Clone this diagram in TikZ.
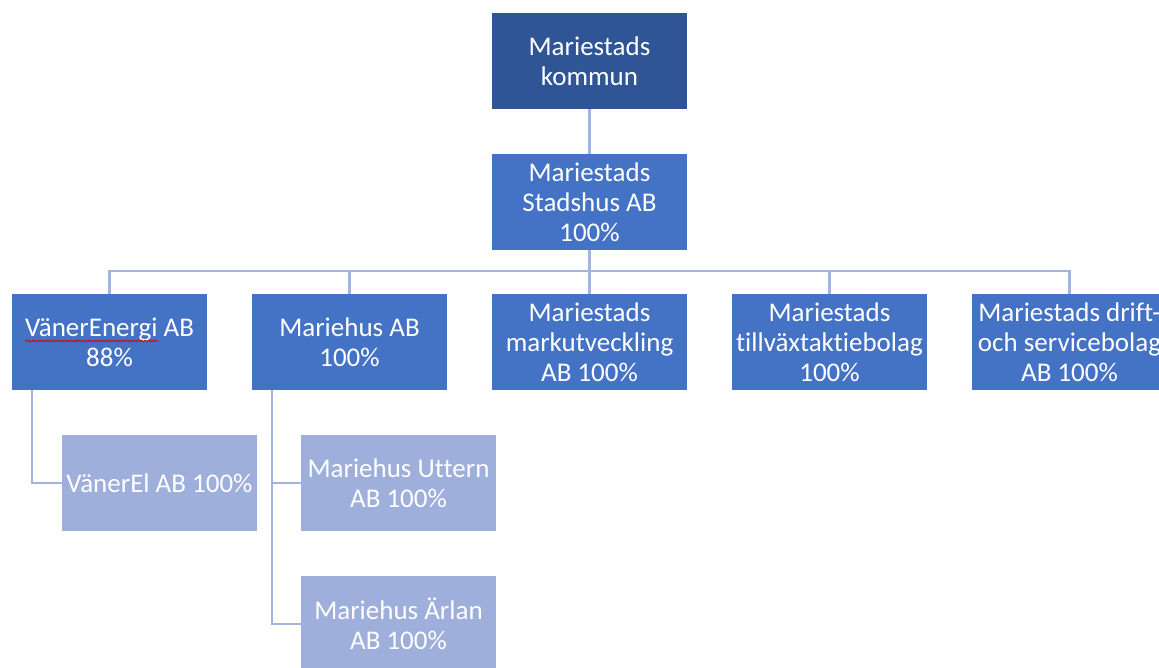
\documentclass[tikz,border=0pt]{standalone}
\usepackage{fontspec}
\setmainfont{Carlito}[Ligatures=NoCommon]
\usetikzlibrary{decorations.pathmorphing}
\definecolor{topblue}{HTML}{2F5597}
\definecolor{midblue}{HTML}{4472C4}
\definecolor{lightblue}{HTML}{9FAFDB}
\definecolor{linecol}{HTML}{A3B4DE}
\begin{document}
\begin{tikzpicture}[x=1pt,y=-1pt,
  orgbox/.style={rectangle, minimum width=195pt, minimum height=96pt, inner sep=0pt,
    align=center, text=white, font=\fontsize{27}{30}\selectfont},
  topbox/.style={orgbox, fill=topblue},
  midbox/.style={orgbox, fill=midblue},
  subbox/.style={orgbox, fill=lightblue},
  txt/.style={inner sep=0pt, align=center, text=white, font=\fontsize{27}{30}\selectfont},
  conn/.style={draw=linecol, line width=2.2pt}]
\clip (0,0) rectangle (1159,668);
\fill[white] (0,0) rectangle (1159,668);
% nodes
\node[topbox] (top) at (589.5,61) {Mariestads\\kommun};
\node[midbox] (stad) at (589.5,202) {Mariestads\\Stadshus AB\\100\%};
\node[midbox] (ve) at (109.5,342) {VänerEnergi AB\\88\%};
\node[midbox] (mh) at (349.5,342) {Mariehus AB\\100\%};
\node[midbox] (mark) at (589.5,342) {Mariestads\\markutveckling\\AB 100\%};
\node[midbox] (till) at (829.5,342) {Mariestads\\tillväxtaktiebolag\\100\%};
\node[midbox] (drift) at (1069.5,342) {};
\node[txt] (driftt) at (drift) {Mariestads drift-\\och servicebolag\\AB 100\%};
\node[subbox] (vel) at (159.5,483) {VänerEl AB 100\%};
\node[subbox] (utt) at (398.5,483) {Mariehus Uttern\\AB 100\%};
\node[subbox] (arl) at (398.5,624) {Mariehus Ärlan\\AB 100\%};
% spell-check squiggle
\coordinate (sqa) at (25,341);
\coordinate (sqb) at (158,341);
\draw[red!85!black, line width=0.8pt, decorate, decoration={snake, amplitude=0.8pt, segment length=3.5pt}] (sqa) -- (sqb);
% connectors
\coordinate (bus) at (589.5,271);
\draw[conn] (top.south) -- (stad.north);
\draw[conn] (stad.south) -- (bus);
\draw[conn] (ve.north) |- (bus);
\draw[conn] (mh.north) |- (bus);
\draw[conn] (mark.north) -- (bus);
\draw[conn] (till.north) |- (bus);
\draw[conn] (drift.north) |- (bus);
\coordinate (ves) at (32,390);
\coordinate (mhs) at (272,390);
\draw[conn] (ves) |- (vel.west);
\draw[conn] (mhs) |- (utt.west);
\draw[conn] (mhs) |- (arl.west);
\end{tikzpicture}
\end{document}
